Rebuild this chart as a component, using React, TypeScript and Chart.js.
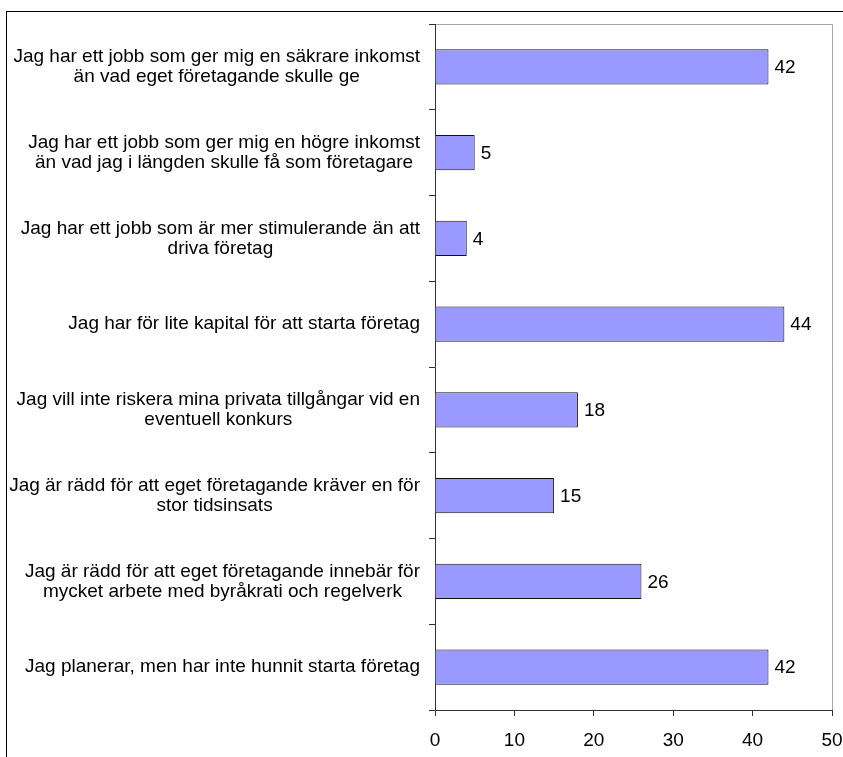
import React, { useEffect, useRef } from "react";
import { Chart, registerables } from "chart.js";

Chart.register(...registerables);

const categories: string[][] = [
  ["Jag har ett jobb som ger mig en säkrare inkomst", "än vad eget företagande skulle ge"],
  ["Jag har ett jobb som ger mig en högre inkomst", "än vad jag i längden skulle få som företagare"],
  ["Jag har ett jobb som är mer stimulerande än att", "driva företag"],
  ["Jag har för lite kapital för att starta företag"],
  ["Jag vill inte riskera mina privata tillgångar vid en", "eventuell konkurs"],
  ["Jag är rädd för att eget företagande kräver en för", "stor tidsinsats"],
  ["Jag är rädd för att eget företagande innebär för", "mycket arbete med byråkrati och regelverk"],
  ["Jag planerar, men har inte hunnit starta företag"],
];
const values: number[] = [42, 5, 4, 44, 18, 15, 26, 42];
const xTicks = { min: 0, max: 50, step: 10 };

const FONT = '"Liberation Sans", Arial, sans-serif';
const FONT_SIZE = 19;

const decorPlugin = {
  id: "decor",
  afterDraw(chart: any) {
    const { ctx, chartArea } = chart;
    const yScale = chart.scales.y;
    ctx.save();
    ctx.strokeStyle = "#a6a6a6";
    ctx.lineWidth = 1;
    ctx.beginPath();
    ctx.moveTo(chartArea.left + 1, chartArea.top + 0.5);
    ctx.lineTo(chartArea.right + 0.5, chartArea.top + 0.5);
    ctx.lineTo(chartArea.right + 0.5, chartArea.bottom);
    ctx.stroke();

    ctx.font = `${FONT_SIZE}px ${FONT}`;
    ctx.fillStyle = "#000";
    ctx.textBaseline = "middle";
    const rightEdge = chartArea.left - 15;
    const lineH = 20;
    categories.forEach((lines, i) => {
      const y = yScale.getPixelForValue(i);
      const widest = Math.max(...lines.map((l) => ctx.measureText(l).width));
      const cx = rightEdge - widest / 2;
      ctx.textAlign = "center";
      lines.forEach((l, j) => {
        ctx.fillText(l, cx, y + (j - (lines.length - 1) / 2) * lineH);
      });
    });
    const meta = chart.getDatasetMeta(0);
    ctx.textAlign = "left";
    meta.data.forEach((bar: any, i: number) => {
      ctx.fillText(String(values[i]), bar.x + 6, bar.y + 1);
    });
    ctx.restore();
  },
};

export default function App() {
  const ref = useRef<HTMLCanvasElement | null>(null);
  useEffect(() => {
    if (!ref.current) return;
    const chart = new Chart(ref.current, {
      type: "bar",
      data: {
        labels: categories.map((c) => c.join(" ")),
        datasets: [
          {
            data: values,
            backgroundColor: "#9999ff",
            borderColor: "#111",
            borderWidth: 1,
            barPercentage: 0.41,
            categoryPercentage: 1,
          },
        ],
      },
      options: {
        indexAxis: "y",
        responsive: false,
        animation: false,
        layout: { padding: { top: 24, right: 11, left: 0, bottom: 0 } },
        plugins: { legend: { display: false }, tooltip: { enabled: false } },
        scales: {
          x: {
            min: xTicks.min,
            max: xTicks.max,
            ticks: {
              stepSize: xTicks.step,
              color: "#000",
              font: { family: FONT, size: FONT_SIZE },
              padding: 13,
            },
            grid: { drawOnChartArea: false, drawTicks: true, tickLength: 6, color: "#333" },
            border: { display: true, color: "#333" },
            afterFit: (s: any) => {
              s.height = 47;
              s.paddingRight = 0;
              s.paddingLeft = 0;
            },
          },
          y: {
            ticks: { display: false },
            grid: { drawOnChartArea: false, drawTicks: true, tickLength: 6, color: "#333", offset: true },
            border: { display: true, color: "#333" },
            afterFit: (s: any) => {
              s.width = 435;
              s.paddingTop = 0;
              s.paddingBottom = 0;
            },
          },
        },
      },
      plugins: [decorPlugin],
    } as any);
    return () => chart.destroy();
  }, []);
  return (
    <div style={{ position: "fixed", left: 0, top: 0, width: 843, height: 757, background: "#fff" }}>
      <canvas ref={ref} width={843} height={757} style={{ display: "block" }} />
      <div
        style={{
          position: "absolute",
          left: 6,
          top: 11,
          width: 837,
          height: 746,
          boxSizing: "border-box",
          borderTop: "1px solid #000",
          borderLeft: "1px solid #000",
          pointerEvents: "none",
        }}
      />
    </div>
  );
}
